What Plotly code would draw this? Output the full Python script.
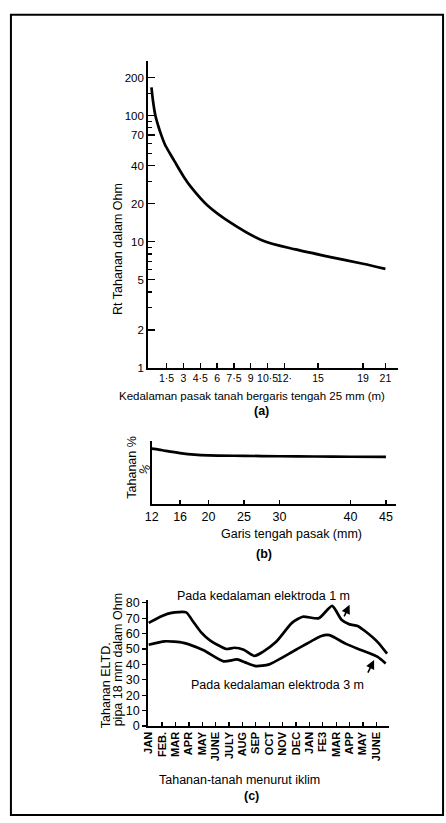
import plotly.graph_objects as go

W, H = 446, 823

# ---------------- data ----------------
# (a) resistance vs depth of 25 mm rod
depth_m = [0.15, 0.3, 0.5, 0.75, 1.05, 1.35, 1.8, 2.2, 3.05, 3.7, 5.1, 7.2, 10.1, 13.0, 16.0, 19.0, 21.0]
resist_ohm = [167, 128, 100, 83, 69, 59, 50, 43.5, 32.5, 27, 19.6, 14.2, 10.2, 8.7, 7.6, 6.7, 6.1]
a_xtick_vals = [1.5, 3, 4.5, 6, 7.5, 9, 10.5, 12, 15, 19, 21]
a_xtick_text = ["1·5", "3", "4·5", "6", "7·5", "9", "10·5", "12·", "15", "19", "21"]
a_ytick_vals = [1, 2, 5, 10, 20, 40, 70, 100, 200]
a_yminor_vals = [3, 4, 6, 7, 8, 9, 30, 50, 60, 80, 90, 150]

# (b) resistance % vs rod diameter
diam_mm = [12, 13, 14, 16, 18, 20, 25, 30, 35, 40, 45]
resist_pct = [88, 86.5, 84.5, 81, 78.5, 77.3, 76.6, 76.0, 75.6, 75.2, 75.0]
b_xtick_vals = [12, 16, 20, 25, 30, 40, 45]

# (c) seasonal resistance, 18 mm pipe electrode
months = ["JAN", "FEB.", "MAR", "APR", "MAY", "JUNE", "JULY", "AUG", "SEP", "OCT",
          "NOV", "DEC", "JAN", "FE3", "MAR", "APP", "MAY", "JUNE"]
m1_x = [0, 1.0, 1.7, 2.8, 3.3, 3.9, 4.6, 5.8, 6.4, 7.1, 7.9, 8.5, 9.5, 10.7, 11.5, 12.7,
        13.7, 14.4, 15.0, 15.6, 16.1, 17.1, 17.8]
m1_ohm = [67, 71.5, 73.5, 73.8, 68, 61, 55.5, 50, 50.8, 49.5, 45.5, 48, 54.5, 67, 71, 70,
          78, 69, 66, 65, 62, 54.5, 47]
m3_x = [0, 1.2, 2.6, 4.1, 5.6, 6.6, 7.2, 8.0, 9.0, 11.0, 12.9, 13.5, 14.7, 15.9, 17.1, 17.7]
m3_ohm = [52.8, 55, 54, 49.2, 42, 43.2, 41.3, 38.9, 40, 49.5, 58.5, 59, 53.5, 49.2, 44.9, 40.6]
c_ytick_vals = [0, 10, 20, 30, 40, 50, 60, 70, 80]

# ---------------- helpers ----------------
def X(px):
    return px / W

def Y(py):
    return 1 - py / H

FONT = "Liberation Sans"

fig = go.Figure()
fig.add_trace(go.Scatter(x=depth_m, y=resist_ohm, mode="lines",
                         line=dict(color="black", width=2.7, shape="spline", smoothing=0.8),
                         xaxis="x", yaxis="y", showlegend=False))
fig.add_trace(go.Scatter(x=diam_mm, y=resist_pct, mode="lines",
                         line=dict(color="black", width=2.7, shape="spline", smoothing=0.8),
                         xaxis="x2", yaxis="y2", showlegend=False))
fig.add_trace(go.Scatter(x=m1_x, y=m1_ohm, mode="lines",
                         line=dict(color="black", width=2.7, shape="spline", smoothing=0.6),
                         xaxis="x3", yaxis="y3", showlegend=False))
fig.add_trace(go.Scatter(x=m3_x, y=m3_ohm, mode="lines",
                         line=dict(color="black", width=2.7, shape="spline", smoothing=0.6),
                         xaxis="x3", yaxis="y3", showlegend=False))

ax_common = dict(showline=True, linecolor="black", linewidth=1.6, showgrid=False,
                 zeroline=False, tickcolor="black", tickwidth=1.3, fixedrange=True)

fig.update_layout(
    width=W, height=H, margin=dict(l=0, r=0, t=0, b=0),
    paper_bgcolor="white", plot_bgcolor="white",
    font=dict(family=FONT, color="black", size=11),
    xaxis=dict(domain=[X(143), X(397)], anchor="y", range=[-0.18, 22.1],
               tickmode="array", tickvals=a_xtick_vals, ticktext=a_xtick_text,
               tickangle=0, ticks="inside", ticklen=5, tickfont=dict(size=10.5), **ax_common),
    yaxis=dict(domain=[Y(369), Y(58)], anchor="x", type="log", range=[0, 2.43],
               tickmode="array", tickvals=a_ytick_vals, ticktext=[str(v) for v in a_ytick_vals],
               ticks="inside", ticklen=7, tickfont=dict(size=11.5),
               minor=dict(tickmode="array", tickvals=a_yminor_vals, ticks="inside",
                          ticklen=4, tickcolor="black", tickwidth=1.2),
               **ax_common),
    xaxis2=dict(domain=[X(147), X(395)], anchor="y2", range=[12, 46.39],
                tickmode="array", tickvals=b_xtick_vals, ticks="inside", ticklen=4,
                tickangle=0, tickfont=dict(size=12.5), **ax_common),
    yaxis2=dict(domain=[Y(507), Y(443)], anchor="x2", range=[0, 100],
                showticklabels=False, ticks="", **ax_common),
    xaxis3=dict(domain=[X(143), X(388)], anchor="y3", range=[-0.07, 17.94],
                tickmode="array", tickvals=list(range(len(months))), ticktext=months,
                tickangle=-90, ticks="inside", ticklen=4,
                tickfont=dict(size=11, family="Liberation Sans Narrow, " + FONT, weight="bold"),
                **ax_common),
    yaxis3=dict(domain=[Y(731.7), Y(604)], anchor="x3", range=[0, 81.9],
                tickmode="array", tickvals=c_ytick_vals, ticks="outside", ticklen=4,
                tickfont=dict(size=12.5), **ax_common),
)

def note(text, px, py, size=12, angle=0, bold=False):
    fig.add_annotation(text=text, x=X(px), y=Y(py), xref="paper", yref="paper",
                       showarrow=False, textangle=angle, xanchor="center", yanchor="middle",
                       font=dict(size=size, family=FONT, color="black",
                                 weight="bold" if bold else "normal"))

# (a) titles
note("Rt Tahanan dalam Ohm", 112, 248, size=12.5, angle=-90)
note("Kedalaman pasak tanah bergaris tengah 25 mm (m)", 249, 397, size=11.5)
note("(a)", 259, 413, size=12.5, bold=True)
# (b) titles
note("Tahanan %", 127, 470, size=12.5, angle=-90)
note("%", 140, 471, size=12, angle=-60)
note("Garis tengah pasak (mm)", 289, 537, size=12.5)
note("(b)", 261, 557, size=12.5, bold=True)
# (c) titles
note("Pada kedalaman elektroda 1 m", 261, 600, size=12.5)
note("Pada kedalaman elektroda 3 m", 275, 690, size=12.5)
note("Tahanan ELTD.", 100, 690, size=12.5, angle=-90)
note("pipa 18 mm dalam Ohm", 113, 665, size=12.5, angle=-90)
note("Tahanan-tanah menurut iklim", 236, 787, size=12.5)
note("(c)", 248, 803, size=12.5, bold=True)

# arrows in (c)
for hx, hy, ax_, ay_ in [(348, 609, -6, 13), (373, 665, -7, 14)]:
    fig.add_annotation(text="", x=X(hx), y=Y(hy), xref="paper", yref="paper",
                       showarrow=True, ax=ax_, ay=ay_, arrowhead=2, arrowsize=1.1,
                       arrowwidth=1.6, arrowcolor="black")

# outer frame
fig.add_shape(type="rect", xref="paper", yref="paper",
              x0=X(4), x1=X(443), y0=Y(822), y1=Y(11),
              line=dict(color="black", width=2))

fig.write_html("out.html", config={"displayModeBar": False, "staticPlot": True},
               post_script="document.body.style.margin='0';document.body.style.overflow='hidden';")
